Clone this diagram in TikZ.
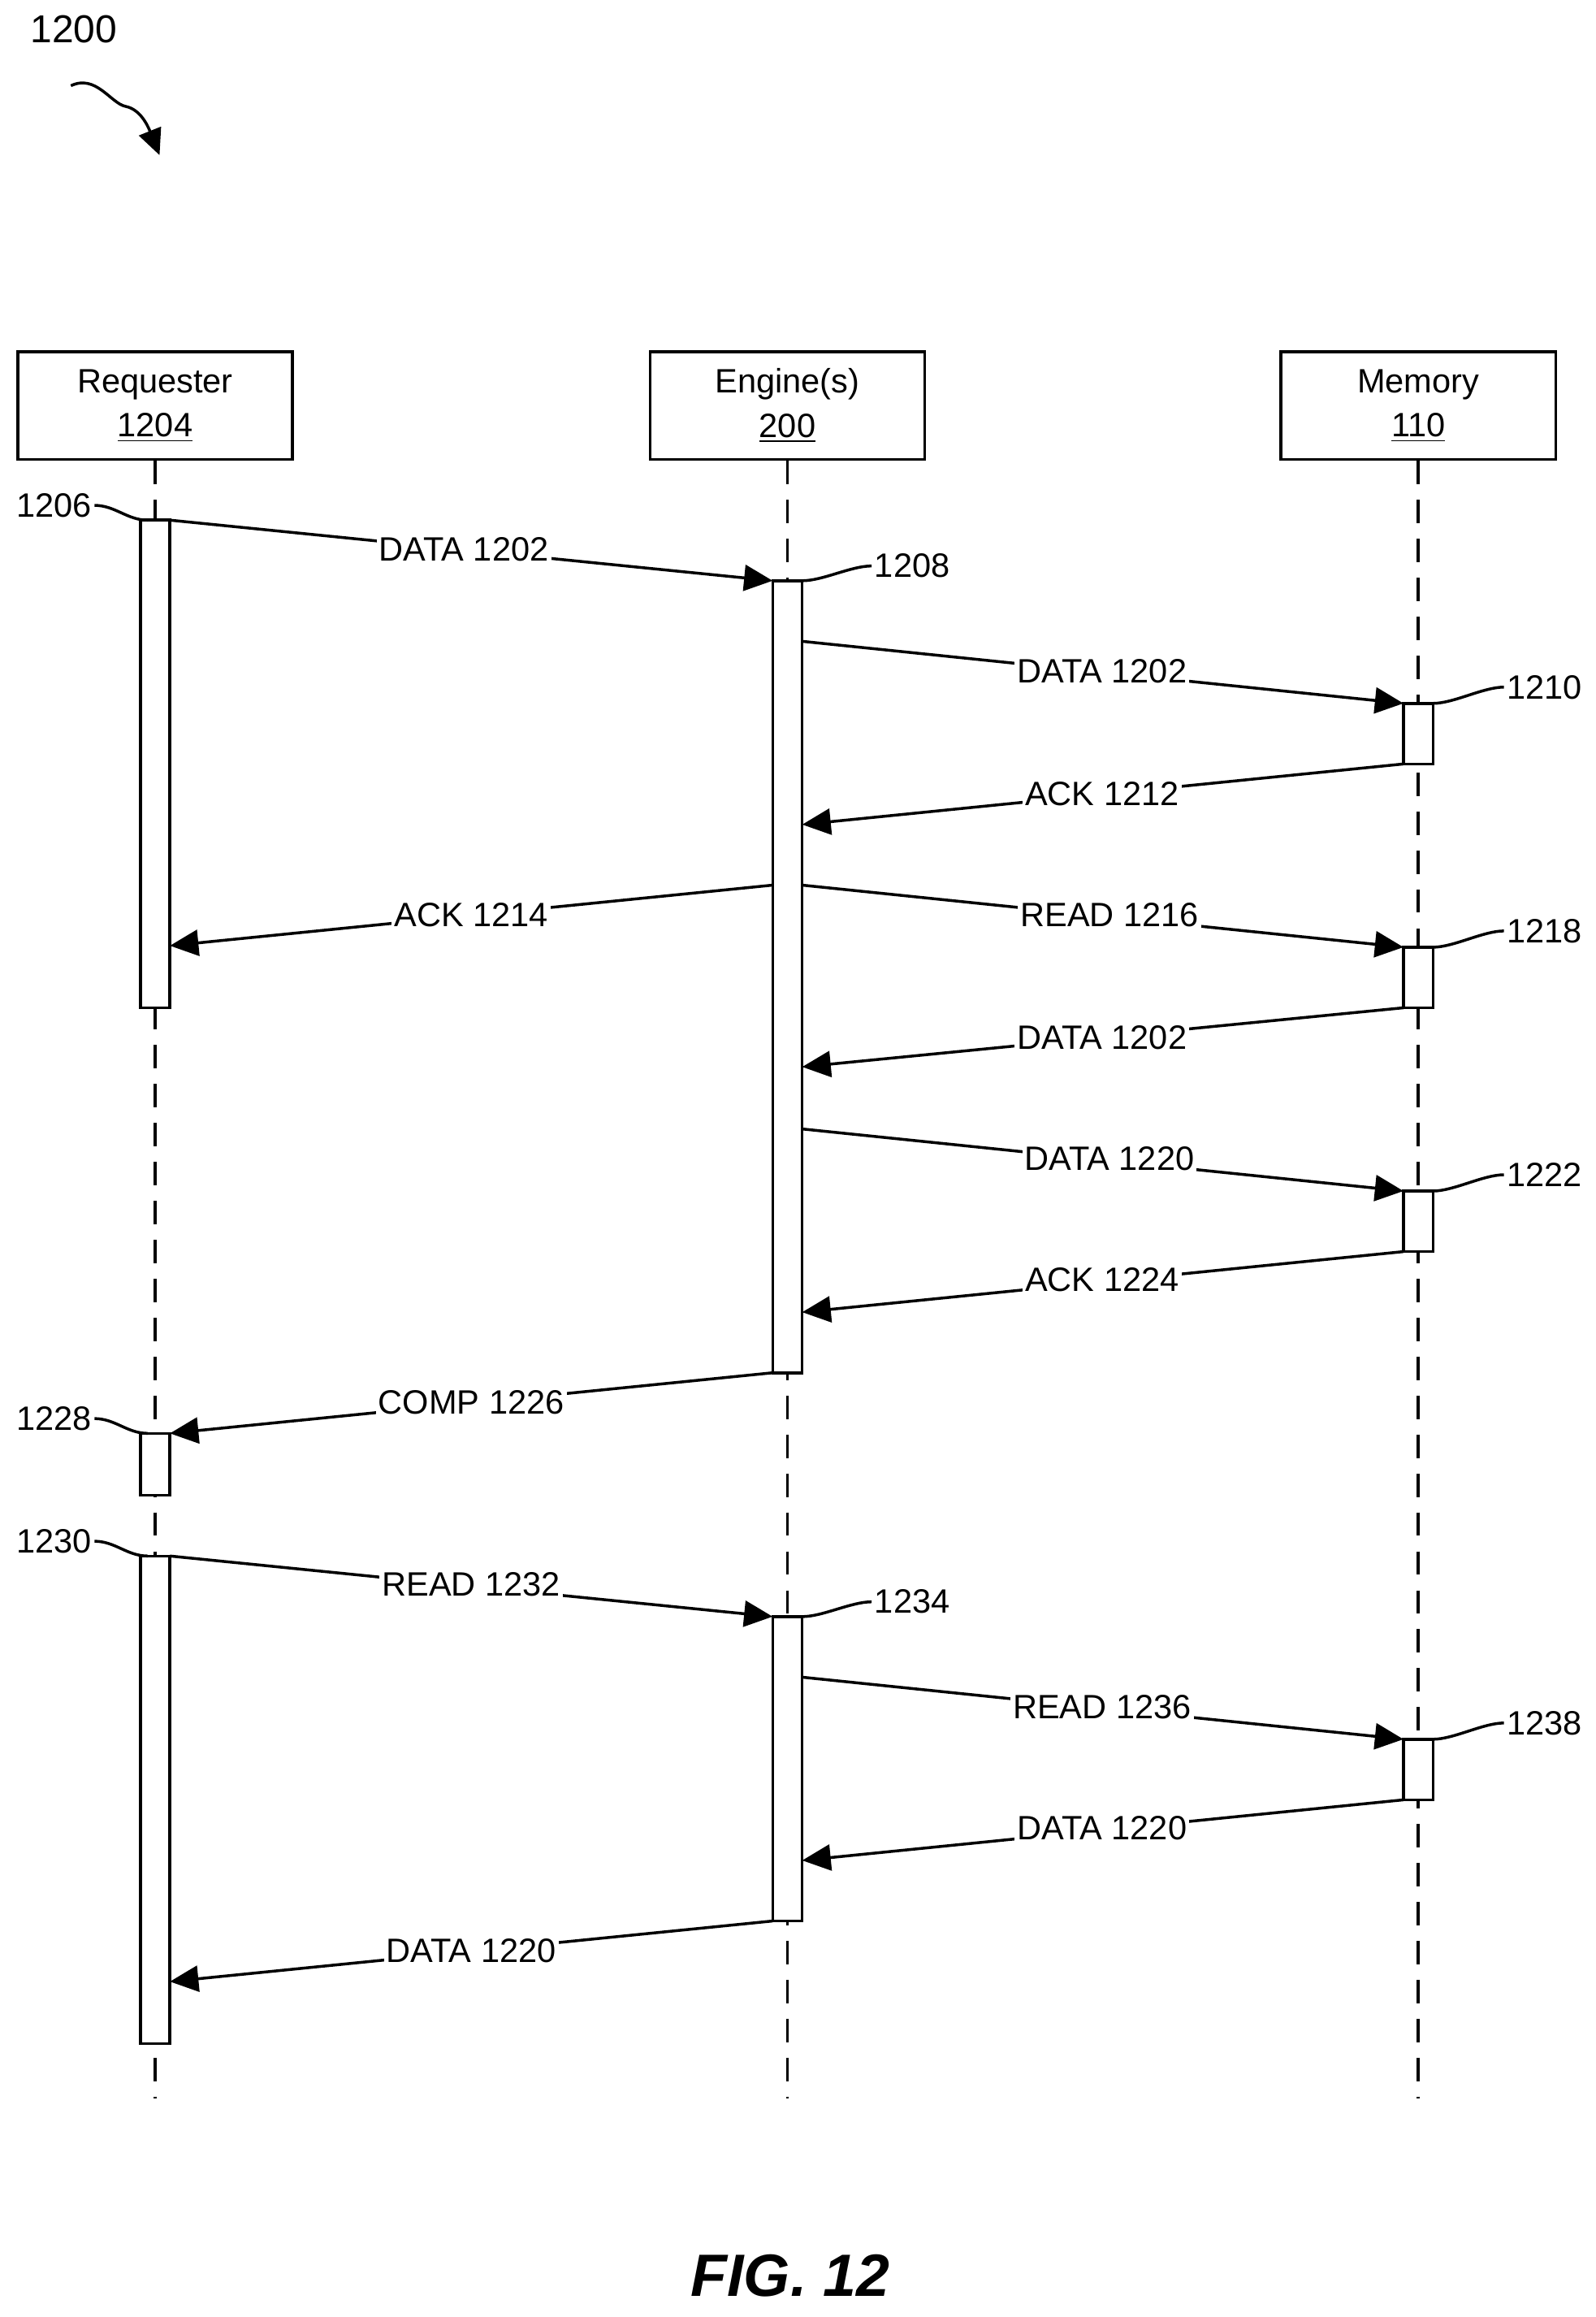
\documentclass[tikz,border=0pt]{standalone}
\usepackage{fontspec}
\setmainfont{Liberation Sans}
\usetikzlibrary{arrows.meta,positioning}

\tikzset{
  actor/.style={draw,line width=1.1pt,minimum width=3.72cm,minimum height=1.46cm,align=center,font=\fontsize{13}{17}\selectfont},
  life/.style={line width=1.1pt,dash pattern=on 9pt off 6pt},
  bar/.style={draw,fill=white,line width=1.1pt},
  msg/.style={line width=1.1pt,-{Triangle[length=11pt,width=10pt]}},
  lbl/.style={fill=white,inner sep=1pt,font=\fontsize{13}{15}\selectfont},
  tag/.style={inner sep=1pt,font=\fontsize{13}{15}\selectfont},
  wig/.style={line width=1.1pt}
}

\begin{document}
\begin{tikzpicture}[x=0.02cm,y=-0.02cm]

        \useasboundingbox (0,0) rectangle (1080,1568);

        % Figure number
        \node[tag,font=\fontsize{15}{17}\selectfont] (fignum) at (50,20) {1200};
        \draw[wig,-{Triangle[length=10pt,width=9pt]}] (48,58) .. controls (65,50) and (75,70) .. (85,72) .. controls (95,74) and (100,85) .. (108,105);

        % Actors
        \node[actor] (req) at (105,274.5) {Requester\\\underline{1204}};
        \node[actor] (eng) at (533,274.5) {Engine(s)\\\underline{200}};
        \node[actor] (mem) at (960,274.5) {Memory\\\underline{110}};

        % Lifelines
        \coordinate (reqend) at (105,1420);
        \coordinate (engend) at (533,1420);
        \coordinate (memend) at (960,1420);
        \draw[life] (req.south) -- (reqend);
        \draw[life] (eng.south) -- (engend);
        \draw[life] (mem.south) -- (memend);

        % Activation bars
        \foreach \name/\x/\ya/\yb in {ra/105/352/682, rb/105/970/1012, rc/105/1053/1383,
                                     ea/533/393/929, eb/533/1094/1300,
                                     ma/960/476/517, mb/960/641/682, mc/960/806/847, md/960/1177/1218}
        {
          \draw[bar] (\x-10,\ya) rectangle (\x+10,\yb);
          \coordinate (\name) at (\x,\ya);
        }

        % Messages
        \foreach \xa/\ya/\xb/\yb/\txt/\lx/\ly in {
            115/352/523/393/DATA 1202/314/372,
            543/434/950/476/DATA 1202/746/454,
            950/517/543/558/ACK 1212/746/537,
            523/599/115/640/ACK 1214/319/619,
            543/599/950/641/READ 1216/751/619,
            950/682/543/722/DATA 1202/746/702,
            543/764/950/806/DATA 1220/751/784,
            950/847/543/888/ACK 1224/746/866,
            523/929/115/970/COMP 1226/319/949,
            115/1053/523/1094/READ 1232/319/1072,
            543/1135/950/1177/READ 1236/746/1155,
            950/1218/543/1259/DATA 1220/746/1237,
            523/1300/115/1341/DATA 1220/319/1320}
        {
          \coordinate (from) at (\xa,\ya);
          \coordinate (to) at (\xb,\yb);
          \draw[msg] (from) -- (to);
          \node[lbl] at (\lx,\ly) {\txt};
        }

        % Bar tags, left side
        \foreach \name/\num/\y in {ra/1206/342, rb/1228/960, rc/1230/1043}
        {
          \node[tag,anchor=east] (t\num) at (64,\y) {\num};
          \draw[wig] (t\num.east) .. controls +(14,0) and +(-14,0) .. ([xshift=-0.1cm]\name);
        }

        % Bar tags, right side
        \foreach \name/\num/\x/\y in {ea/1208/590/383, eb/1234/590/1084,
                                      ma/1210/1018/465, mb/1218/1018/630, mc/1222/1018/795, md/1238/1018/1166}
        {
          \node[tag,anchor=west] (t\num) at (\x,\y) {\num};
          \draw[wig] ([xshift=0.2cm]\name) .. controls +(14,0) and +(-14,0) .. (t\num.west);
        }

        % Caption
        \node[font=\fontsize{23}{27}\selectfont\bfseries\itshape] (caption) at (535,1540) {FIG. 12};

        \end{tikzpicture}
\end{document}
